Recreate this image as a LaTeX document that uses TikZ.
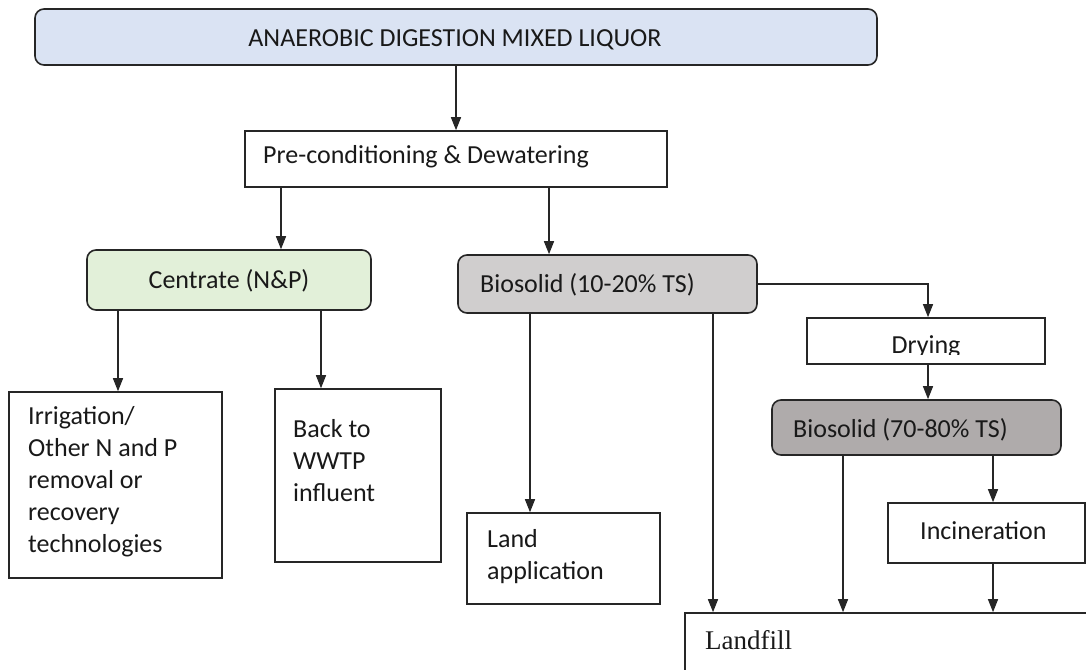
\documentclass[tikz,border=0pt]{standalone}
\usepackage{fontspec}
\setmainfont{Carlito}
\newfontfamily\serifland{Liberation Serif}
\usetikzlibrary{arrows.meta}
\definecolor{topblue}{HTML}{DAE3F3}
\definecolor{cengreen}{HTML}{E2F0D9}
\definecolor{biogray}{HTML}{D0CECE}
\definecolor{biodark}{HTML}{AFABAB}
\definecolor{edge}{HTML}{262626}
\begin{document}
\begin{tikzpicture}[x=1pt,y=-1pt,
  box/.style={draw=edge, line width=1.6pt, fill=white, rectangle, inner sep=0pt},
  rbox/.style={box, rounded corners=9pt},
  txt/.style={inner sep=0pt, font=\fontsize{26}{32}\selectfont, text=black!90},
  ltxt/.style={txt, anchor=west, align=left},
  arr/.style={draw=edge, line width=1.3pt, -{Triangle[width=10pt,length=13pt]}}]
\useasboundingbox (0,0) rectangle (1086,669);
\clip (0,0) rectangle (1086,669);
% boxes
\node[rbox, fill=topblue, minimum width=842, minimum height=56] (top) at (456,37) {};
\node[box, minimum width=422, minimum height=56] (pre) at (456,159) {};
\node[rbox, fill=cengreen, minimum width=284, minimum height=60] (cen) at (229,280) {};
\node[rbox, fill=biogray, minimum width=299, minimum height=58] (bio1) at (607.5,284) {};
\node[box, minimum width=213, minimum height=186] (irr) at (115.5,485) {};
\node[box, minimum width=166, minimum height=173] (back) at (358,475.5) {};
\node[box, minimum width=193, minimum height=91] (land) at (563.5,558.5) {};
\node[box, minimum width=238, minimum height=46] (dry) at (926,341) {};
\node[rbox, fill=biodark, minimum width=289, minimum height=55] (bio2) at (916.5,427.5) {};
\node[box, minimum width=197, minimum height=60] (inc) at (986.5,533) {};
\node[box, minimum width=420, minimum height=110] (fill) at (895,668) {};
% texts
\node[txt] (topT) at (455,40) {ANAEROBIC DIGESTION MIXED LIQUOR};
\node[ltxt] (preT) at (263,157) {Pre-conditioning \& Dewatering};
\node[txt] (cenT) at (229,281) {Centrate (N\&P)};
\node[ltxt] (bio1T) at (480,285) {Biosolid (10-20\% TS)};
\node[ltxt] (irrT) at (28,482) {Irrigation/\\Other N and P\\removal or\\recovery\\technologies};
\node[ltxt] (backT) at (293,461) {Back to\\WWTP\\influent};
\node[ltxt] (landT) at (487,557) {Land\\application};
\begin{scope}
\clip (800,320) rectangle (1050,354);
\node[txt] (dryT) at (926,347) {Drying};
\end{scope}
\node[ltxt] (bio2T) at (793,430) {Biosolid (70-80\% TS)};
\node[ltxt] (incT) at (920,531) {Incineration};
\node[ltxt, font=\serifland\fontsize{27}{30}\selectfont] (fillT) at (705,640) {Landfill};
% connectors
\draw[arr] (top.south) -- (pre.north);
\draw[arr] (pre.south -| 281,0) -- (cen.north -| 281,0);
\draw[arr] (pre.south -| 549,0) -- (bio1.north -| 549,0);
\draw[arr] (cen.south -| 118,0) -- (irr.north -| 118,0);
\draw[arr] (cen.south -| 321,0) -- (back.north -| 321,0);
\draw[arr] (bio1.south -| 530,0) -- (land.north -| 530,0);
\draw[arr] (bio1.south -| 713,0) -- (fill.north -| 713,0);
\draw[arr] (bio1.east) -| (dry.north -| 928,0);
\draw[arr] (dry.south -| 928,0) -- (bio2.north -| 928,0);
\draw[arr] (bio2.south -| 843,0) -- (fill.north -| 843,0);
\draw[arr] (bio2.south -| 993,0) -- (inc.north -| 993,0);
\draw[arr] (inc.south -| 993,0) -- (fill.north -| 993,0);
\end{tikzpicture}
\end{document}
